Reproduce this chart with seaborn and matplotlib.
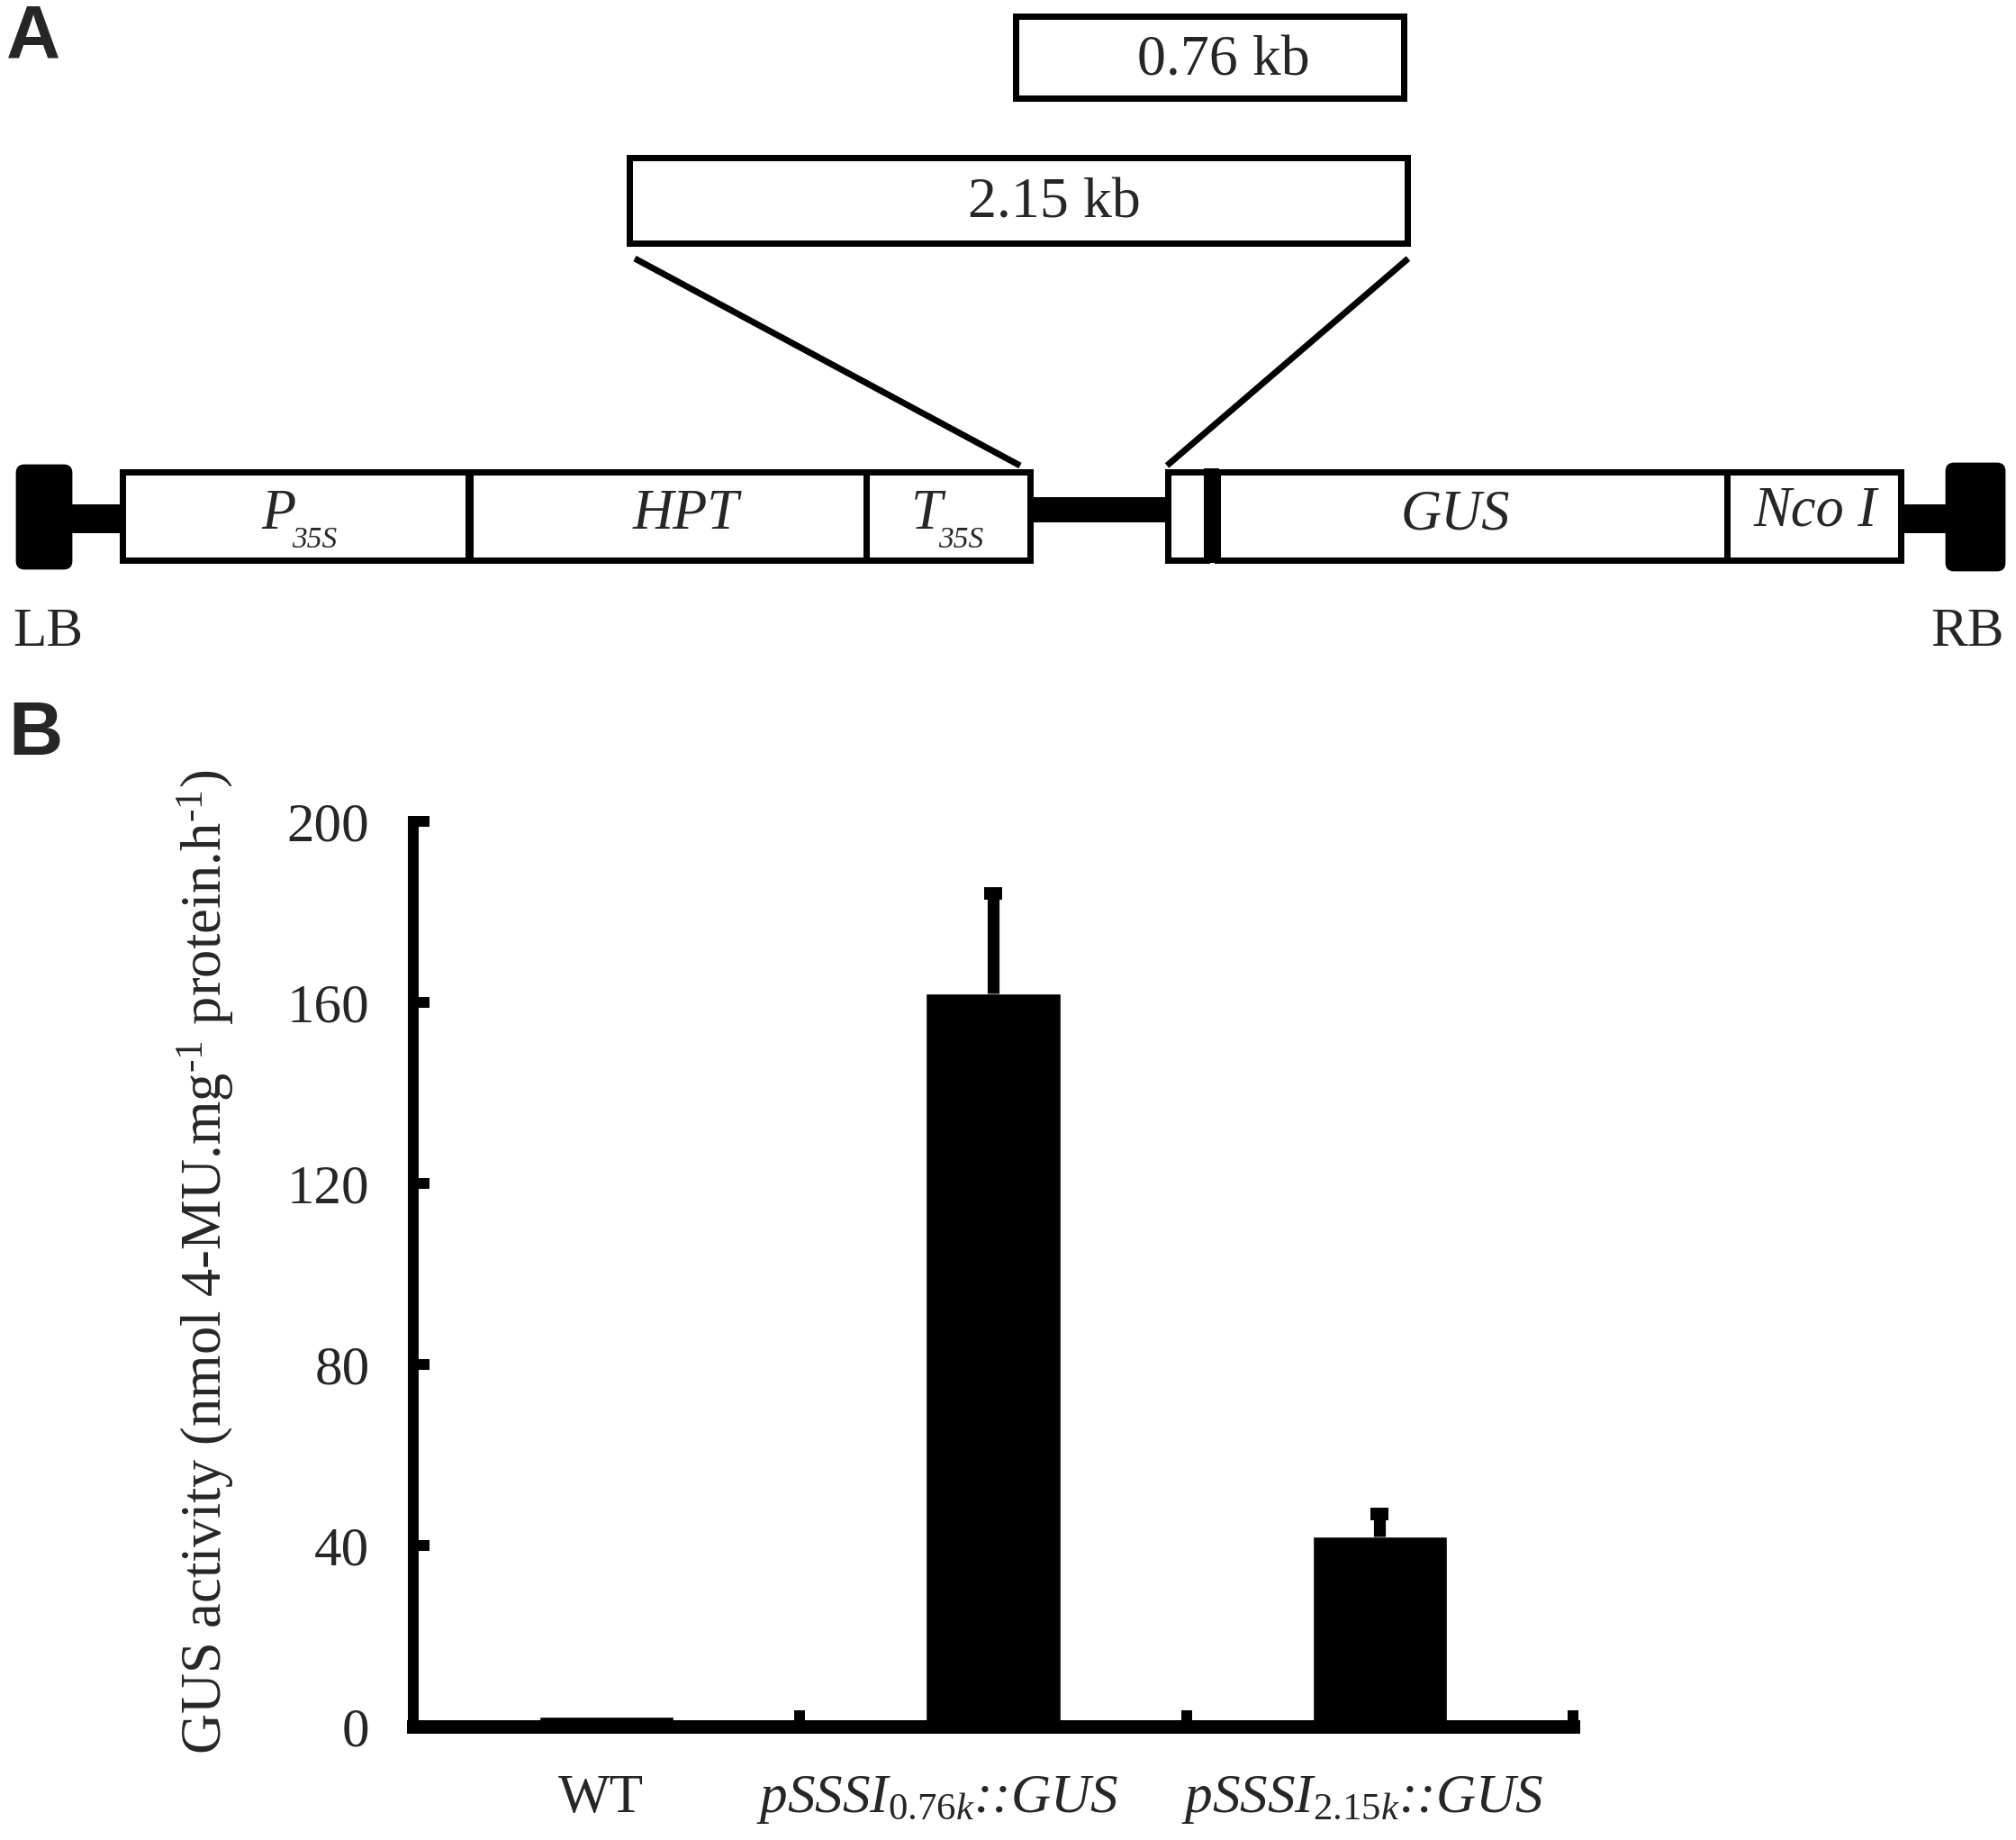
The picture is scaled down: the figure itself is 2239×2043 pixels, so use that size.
import numpy as np
import pandas as pd
import matplotlib
matplotlib.use("Agg")
import matplotlib.pyplot as plt
import matplotlib.transforms as mtransforms
from matplotlib.patches import Rectangle, FancyBboxPatch
import seaborn as sns

# ---------------- data ----------------
groups = ["WT", "pSSSI 0.76k::GUS", "pSSSI 2.15k::GUS"]
tick_labels = ["WT",
               r"$\mathit{pSSSI}_{\mathit{0.76k}}$::GUS",
               r"$\mathit{pSSSI}_{\mathit{2.15k}}$::GUS"]
gus_activity = [2.2, 162.0, 42.0]
gus_sd = [0.0, 22.0, 5.0]
yticks = [0, 40, 80, 120, 160, 200]

# construct map (panel A) element names
construct_boxes = ["P35S", "HPT", "T35S", "small", "GUS", "NcoI"]
fragment_labels = ["0.76 kb", "2.15 kb"]

# ---------------- style ----------------
sns.set_style("ticks")
plt.rcParams['font.family'] = ['Liberation Serif', 'DejaVu Serif']
plt.rcParams['mathtext.fontset'] = 'custom'
plt.rcParams['mathtext.rm'] = 'Liberation Serif'
plt.rcParams['mathtext.it'] = 'Liberation Serif:italic'
plt.rcParams['mathtext.bf'] = 'Liberation Serif:bold'

W, H = 2239, 2043
fig = plt.figure(figsize=(W / 100, H / 100), dpi=100)
fig.patch.set_facecolor('white')

PX = 72 / 100  # points per pixel

# ---------------- panel A (schematic, in pixel coords) ----------------
axA = fig.add_axes([0, 0, 1, 1])
axA.set_xlim(0, W)
axA.set_ylim(H, 0)
axA.axis('off')

lw_box = 7 * PX

def box(x0, x1, y0, y1, lw=lw_box):
    h = lw / PX / 2
    axA.add_patch(Rectangle((x0 + h, y0 + h), x1 - x0 - 2 * h, y1 - y0 - 2 * h,
                            facecolor='white', edgecolor='black', linewidth=lw,
                            joinstyle='miter', zorder=3))

def solid(x0, x1, y0, y1, z=2):
    axA.add_patch(Rectangle((x0, y0), x1 - x0, y1 - y0, facecolor='black',
                            edgecolor='none', zorder=z))

# fragment boxes
box(1124, 1562, 14, 112)
box(695, 1566, 171, 273)
axA.text(1359, 84, fragment_labels[0], fontsize=46, ha='center', va='baseline', zorder=5)
axA.text(1171, 241, fragment_labels[1], fontsize=46, ha='center', va='baseline', zorder=5)

# diagonal lines
axA.plot([705, 1133], [287, 517], color='black', lw=7 * PX, solid_capstyle='butt', zorder=4)
axA.plot([1564, 1296], [287, 517], color='black', lw=7 * PX, solid_capstyle='butt', zorder=4)

# construct
ytop, ybot = 520, 625
axA.add_patch(FancyBboxPatch((19, 517), 60, 114, boxstyle="round,pad=0,rounding_size=8",
                             facecolor='black', edgecolor='black', linewidth=2, zorder=3))
solid(79, 134, 560, 592)
box(132, 523, ytop, ybot)
box(518, 965, ytop, ybot)
box(958, 1147, ytop, ybot)
solid(1145, 1298, 552, 580)
box(1293, 1343, ytop, ybot)
solid(1337, 1354, ytop, ybot, z=4)
box(1348, 1922, ytop, ybot)
box(1914, 2114, ytop, ybot)
solid(2112, 2162, 560, 592)
axA.add_patch(FancyBboxPatch((2162, 515), 64, 118, boxstyle="round,pad=0,rounding_size=8",
                             facecolor='black', edgecolor='black', linewidth=2, zorder=3))

it = dict(fontstyle='italic', zorder=5, va='baseline')
axA.text(290, 587, "P", fontsize=45, ha='left', **it)
axA.text(324, 608, "35S", fontsize=24, ha='left', **it)
axA.text(762, 587, "HPT", fontsize=45, ha='center', **it)
axA.text(1012, 587, "T", fontsize=45, ha='left', **it)
axA.text(1042, 608, "35S", fontsize=24, ha='left', **it)
axA.text(1616, 587, "GUS", fontsize=45, ha='center', **it)
axA.text(2016, 583, "Nco I", fontsize=45, ha='center', **it)
axA.text(14, 717, "LB", fontsize=44, ha='left', va='baseline', zorder=5)
axA.text(2226, 717, "RB", fontsize=44, ha='right', va='baseline', zorder=5)

axA.text(7, 65, "A", fontsize=60, fontweight='bold', family='Liberation Sans',
         ha='left', va='baseline')
axA.text(9, 838, "B", fontsize=60, fontweight='bold', family='Liberation Sans',
         ha='left', va='baseline')

# ---------------- panel B (bar chart) ----------------
ax = fig.add_axes([459 / W, 1 - 1917 / H, (1747 - 459) / W, (1917 - 912) / H])
ax.patch.set_alpha(0)
df = pd.DataFrame({"group": groups, "activity": gus_activity, "sd": gus_sd})
sns.barplot(data=df, x="group", y="activity", color='black', saturation=1,
            width=0.348, errorbar=None, ax=ax, zorder=2)
has_err = df["sd"] > 0
xpos = np.arange(len(groups))[has_err.values]
eb = ax.errorbar(x=xpos, y=df.loc[has_err, "activity"],
                 yerr=[np.zeros(len(xpos)), df.loc[has_err, "sd"]], fmt='none',
                 ecolor='black', elinewidth=9.5, capsize=7.5, capthick=10, zorder=3)
# hide the lower caps (they sit on top of the bars)
for cl in eb[1]:
    if np.allclose(cl.get_ydata(), df.loc[has_err, "activity"].values):
        cl.set_visible(False)

ax.set_xlim(-0.5, 2.5)
ax.set_ylim(0, 200)
ax.set_yticks(yticks)
ax.set_yticklabels([str(v) for v in yticks])
ax.set_xticks(range(len(groups)))
ax.set_xticklabels(tick_labels, fontstyle='italic')
ax.get_xticklabels()[0].set_fontstyle('normal')
ax.set_xticks([0.5, 1.5, 2.5], minor=True)

ax.tick_params(axis='y', direction='in', length=13, width=8.6, pad=35,
               labelsize=44, color='black')
ax.tick_params(axis='x', which='major', length=0, pad=38, labelsize=44)
ax.tick_params(axis='x', which='minor', direction='in', length=13, width=8.6,
               color='black')

# the original labels sit slightly left of the bar centres
for lab, dx in zip(ax.get_xticklabels(), [-6, -62, -19]):
    off = mtransforms.ScaledTranslation(dx / 100, 0, fig.dpi_scale_trans)
    lab.set_transform(lab.get_transform() + off)

for s in ['top', 'right']:
    ax.spines[s].set_visible(False)
ax.spines['left'].set_linewidth(8.6)
ax.spines['bottom'].set_linewidth(10.8)
ax.spines['left'].set_color('black')
ax.spines['bottom'].set_color('black')
ax.spines['left'].set_capstyle('projecting')
ax.spines['bottom'].set_capstyle('projecting')

ax.set_xlabel("")
ax.set_ylabel(r"GUS activity (nmol 4-MU.mg$^{\text{-1}}$ protein.h$^{\text{-1}}$)",
              fontsize=45)
ax.yaxis.set_label_coords((262 - 459) / (1747 - 459), 0.513)

fig.savefig("out.png", dpi=100, facecolor='white')
